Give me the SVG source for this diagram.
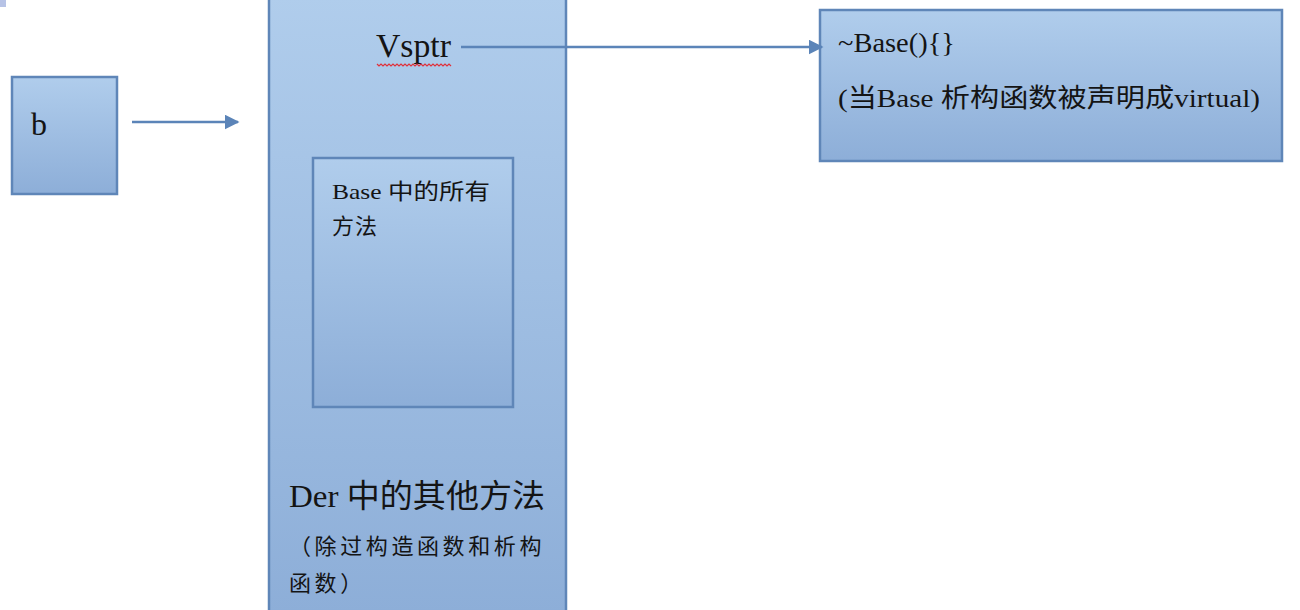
<svg xmlns="http://www.w3.org/2000/svg" width="1300" height="610" viewBox="0 0 1300 610">
<style>
.box{stroke:#5f86b8;stroke-width:2.5}
.t{font-family:"Liberation Serif","Noto Sans CJK SC",serif;fill:#141414}
.conn{stroke:#5b84b8;stroke-width:2.5;fill:none}
</style>
<defs>
<linearGradient id="g" x1="0" y1="0" x2="0" y2="1">
<stop offset="0" stop-color="#b0cdec"/>
<stop offset="1" stop-color="#8daed8"/>
</linearGradient>
<marker id="ah" viewBox="0 0 10 10" refX="9" refY="5" markerWidth="6" markerHeight="6" orient="auto" markerUnits="strokeWidth">
<path d="M0,0 L10,5 L0,10 z" fill="#5b84b8"/>
</marker>
</defs>
<rect width="1300" height="610" fill="#ffffff"/>
<rect x="0" y="0" width="6" height="7" fill="#b7c3e6"/>
<g id="node-b">
<rect class="box" x="12" y="77" width="105" height="117" fill="url(#g)"/>
<text class="t" x="31" y="135" font-size="32">b</text>
</g>
<g id="node-der">
<rect class="box" x="269" y="-4" width="297" height="618" fill="url(#g)"/>
<text class="t" x="376" y="57" font-size="33" textLength="75" lengthAdjust="spacingAndGlyphs">Vsptr</text>
<path d="M377,64 l2,2 l2,-2 l2,2 l2,-2 l2,2 l2,-2 l2,2 l2,-2 l2,2 l2,-2 l2,2 l2,-2 l2,2 l2,-2 l2,2 l2,-2 l2,2 l2,-2 l2,2 l2,-2 l2,2 l2,-2 l2,2 l2,-2 l2,2 l2,-2 l2,2 l2,-2 l2,2 l2,-2 l2,2 l2,-2 l2,2 l2,-2 l2,2 l2,-2 l2,2" stroke="#e0303a" stroke-width="1.2" fill="none"/>
<text class="t" x="289" y="507" font-size="32" textLength="256" lengthAdjust="spacingAndGlyphs">Der 中的其他方法</text>
<text class="t" x="289" y="554" font-size="22" letter-spacing="3.6">（除过构造函数和析构</text>
<text class="t" x="289" y="591" font-size="22" letter-spacing="3.6">函数）</text>
</g>
<g id="node-base-methods">
<rect class="box" x="313" y="158" width="200" height="249" fill="url(#g)"/>
<text class="t" x="332" y="199" font-size="22" textLength="158" lengthAdjust="spacingAndGlyphs">Base 中的所有</text>
<text class="t" x="332" y="234" font-size="22" letter-spacing="1">方法</text>
</g>
<g id="node-dtor">
<rect class="box" x="820" y="10" width="462" height="151" fill="url(#g)"/>
<text class="t" x="838" y="52" font-size="27" textLength="117" lengthAdjust="spacingAndGlyphs">~Base(){}</text>
<text class="t" x="838" y="107" font-size="26" textLength="422" lengthAdjust="spacingAndGlyphs">(当Base 析构函数被声明成virtual)</text>
</g>
<g id="connectors">
<line class="conn" x1="132" y1="122" x2="238" y2="122" marker-end="url(#ah)"/>
<line class="conn" x1="461" y1="47" x2="822" y2="47" marker-end="url(#ah)"/>
</g>
</svg>
